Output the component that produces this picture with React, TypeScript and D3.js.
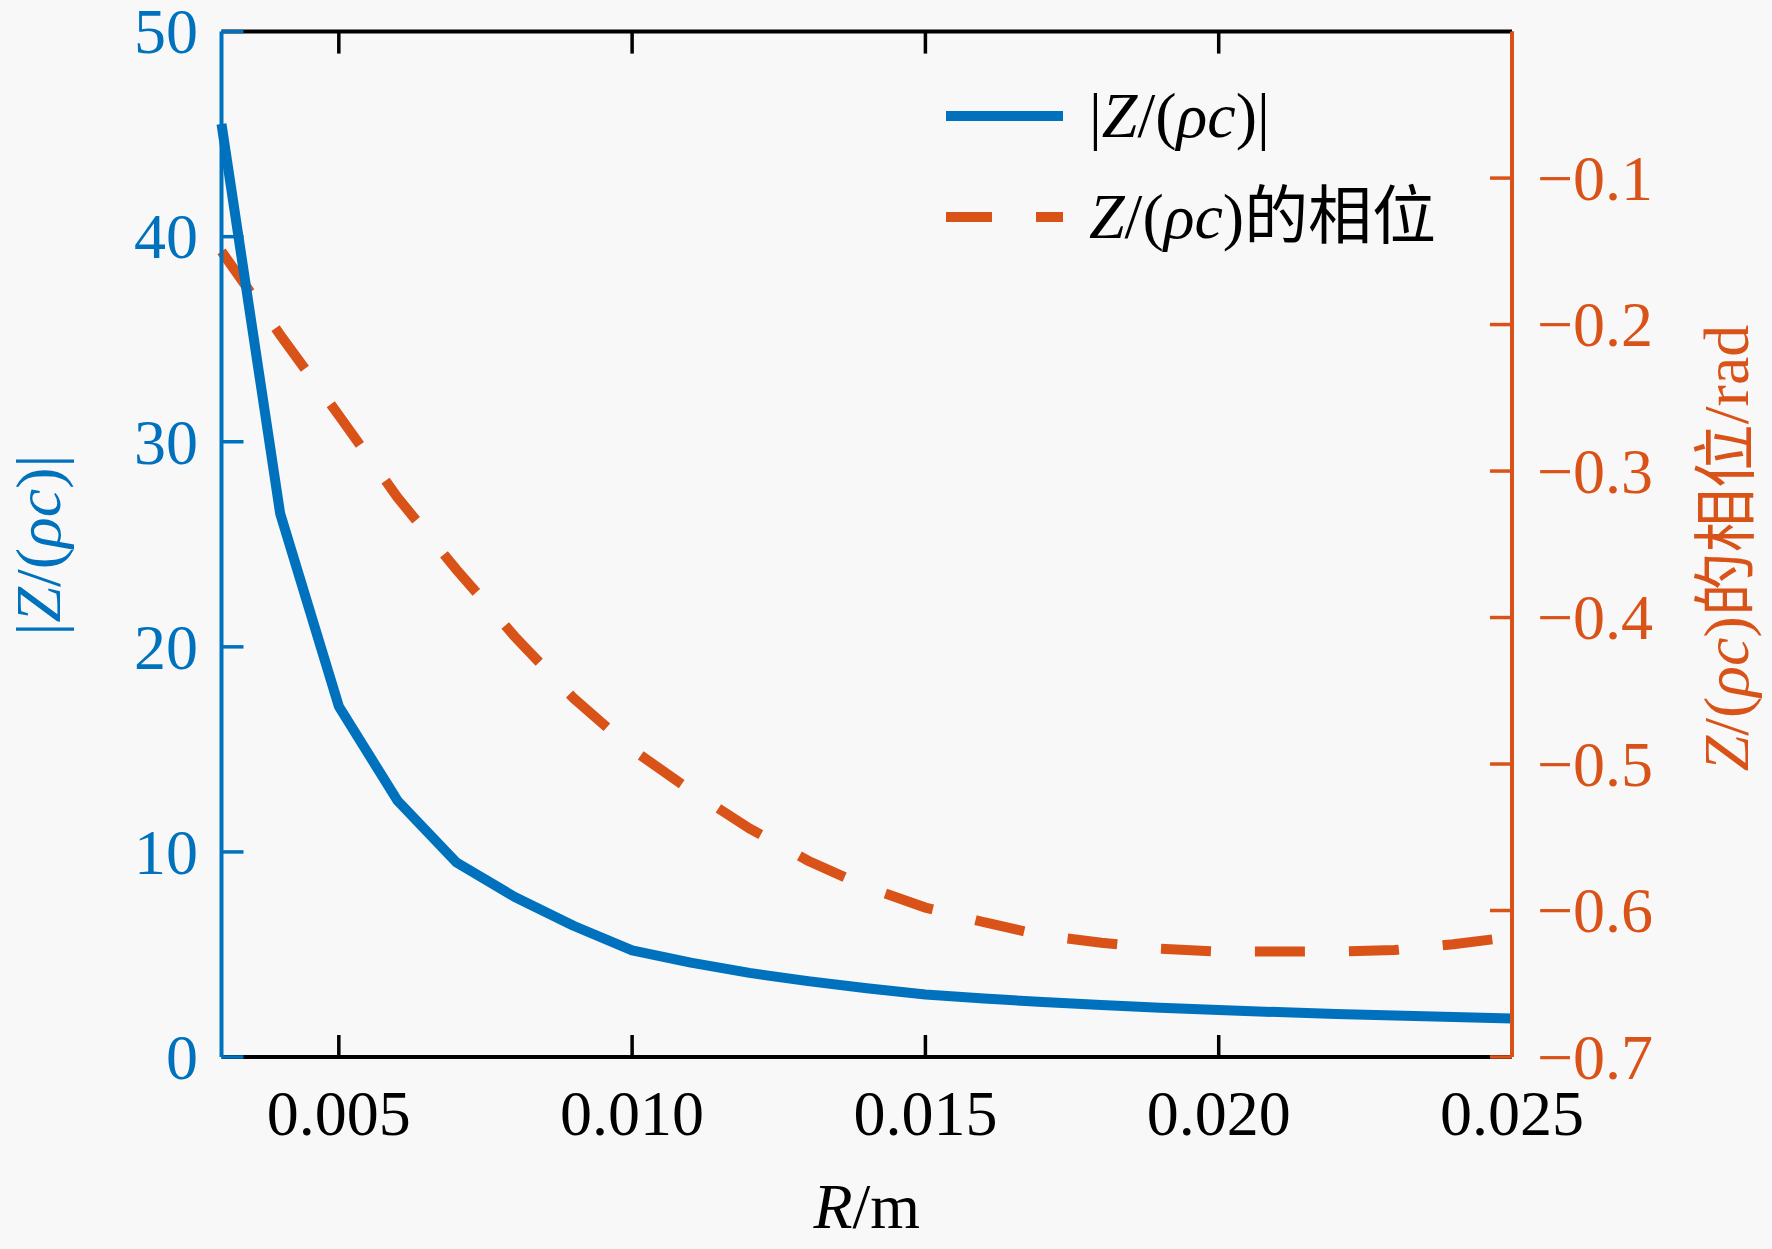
import { useEffect, useRef } from 'react';
import * as d3 from 'd3';

// R (m), sampled every 1 mm
const radii = [
  0.003, 0.004, 0.005, 0.006, 0.007, 0.008, 0.009, 0.010, 0.011, 0.012, 0.013, 0.014,
  0.015, 0.016, 0.017, 0.018, 0.019, 0.020, 0.021, 0.022, 0.023, 0.024, 0.025,
];
// |Z/(rho c)|
const magnitude = [
  45.5, 26.5, 17.1, 12.5, 9.5, 7.8, 6.4, 5.2, 4.6, 4.1, 3.7, 3.35,
  3.05, 2.85, 2.68, 2.53, 2.4, 2.29, 2.19, 2.1, 2.02, 1.95, 1.88,
];
// phase of Z/(rho c), rad
const phase = [
  -0.15, -0.207, -0.262, -0.318, -0.367, -0.413, -0.455, -0.49, -0.518, -0.544, -0.566, -0.584,
  -0.598, -0.608, -0.617, -0.622, -0.626, -0.628, -0.628, -0.628, -0.627, -0.623, -0.618,
];
const xTicks = [0.005, 0.01, 0.015, 0.02, 0.025];
const leftTicks = [0, 10, 20, 30, 40, 50];
const rightTicks = [-0.1, -0.2, -0.3, -0.4, -0.5, -0.6, -0.7];

const BLUE = '#0072BD';
const ORANGE = '#D95319';
const FONT = '"Liberation Serif", "Times New Roman", "Noto Sans CJK SC", serif';

export default function App() {
  const svgRef = useRef<SVGSVGElement>(null);
  const width = 1772;
  const height = 1249;

  useEffect(() => {
    if (!svgRef.current) return;
    const svg = d3.select(svgRef.current);
    svg.selectAll('*').remove();

    const left = 221.5;
    const right = 1512;
    const top = 31.6;
    const bottom = 1057;
    const tickLen = 22;

    const x = d3.scaleLinear().domain([0.003, 0.025]).range([left, right]);
    const yL = d3.scaleLinear().domain([0, 50]).range([bottom, top]);
    const yR = d3.scaleLinear().domain([-0.7, 0]).range([bottom, top]);

    svg.append('rect').attr('width', width).attr('height', height).attr('fill', '#f8f8f8');

    const g = svg.append('g');

    // --- curves ---
    const magLine = d3
      .line<number>()
      .x((_, i) => x(radii[i]))
      .y((d) => yL(d));
    const phaseLine = d3
      .line<number>()
      .x((_, i) => x(radii[i]))
      .y((d) => yR(d));

    g.append('path')
      .datum(phase)
      .attr('d', phaseLine)
      .attr('fill', 'none')
      .attr('stroke', ORANGE)
      .attr('stroke-width', 10)
      .attr('stroke-dasharray', '50,44');

    g.append('path')
      .datum(magnitude)
      .attr('d', magLine)
      .attr('fill', 'none')
      .attr('stroke', BLUE)
      .attr('stroke-width', 10)
      .attr('stroke-linejoin', 'round');

    // --- box: top and bottom (black) ---
    g.append('line')
      .attr('x1', left).attr('x2', right).attr('y1', bottom).attr('y2', bottom)
      .attr('stroke', '#000').attr('stroke-width', 4);
    g.append('line')
      .attr('x1', left).attr('x2', right).attr('y1', top).attr('y2', top)
      .attr('stroke', '#000').attr('stroke-width', 4);

    xTicks.forEach((t) => {
      g.append('line')
        .attr('x1', x(t)).attr('x2', x(t)).attr('y1', bottom).attr('y2', bottom - tickLen)
        .attr('stroke', '#000').attr('stroke-width', 3.5);
      g.append('line')
        .attr('x1', x(t)).attr('x2', x(t)).attr('y1', top).attr('y2', top + tickLen)
        .attr('stroke', '#000').attr('stroke-width', 3.5);
      g.append('text')
        .attr('x', x(t))
        .attr('y', 1135)
        .attr('text-anchor', 'middle')
        .attr('font-family', FONT)
        .attr('font-size', 64)
        .attr('fill', '#000')
        .text(t.toFixed(3));
    });

    // --- left axis (blue) ---
    g.append('line')
      .attr('x1', left).attr('x2', left).attr('y1', top).attr('y2', bottom)
      .attr('stroke', BLUE).attr('stroke-width', 4);
    leftTicks.forEach((t) => {
      g.append('line')
        .attr('x1', left).attr('x2', left + tickLen).attr('y1', yL(t)).attr('y2', yL(t))
        .attr('stroke', BLUE).attr('stroke-width', 3.5);
      g.append('text')
        .attr('x', 198)
        .attr('y', yL(t))
        .attr('dy', '0.34em')
        .attr('text-anchor', 'end')
        .attr('font-family', FONT)
        .attr('font-size', 64)
        .attr('fill', BLUE)
        .text(String(t));
    });

    // --- right axis (orange) ---
    g.append('line')
      .attr('x1', right).attr('x2', right).attr('y1', top).attr('y2', bottom)
      .attr('stroke', ORANGE).attr('stroke-width', 4);
    rightTicks.forEach((t) => {
      g.append('line')
        .attr('x1', right).attr('x2', right - tickLen).attr('y1', yR(t)).attr('y2', yR(t))
        .attr('stroke', ORANGE).attr('stroke-width', 3.5);
      g.append('text')
        .attr('x', 1537)
        .attr('y', yR(t))
        .attr('dy', '0.34em')
        .attr('font-family', FONT)
        .attr('font-size', 64)
        .attr('fill', ORANGE)
        .text(`\u2212${Math.abs(t).toFixed(1)}`);
    });

    // rich label helper: parts of [text, italic]
    const rich = (
      sel: d3.Selection<SVGTextElement, unknown, null, undefined>,
      parts: [string, boolean][],
    ) => {
      parts.forEach(([s, it]) => {
        sel.append('tspan').attr('font-style', it ? 'italic' : 'normal').text(s);
      });
      return sel;
    };

    // x label
    rich(
      g.append('text')
        .attr('x', (left + right) / 2)
        .attr('y', 1228)
        .attr('text-anchor', 'middle')
        .attr('font-family', FONT)
        .attr('font-size', 64)
        .attr('fill', '#000'),
      [['R', true], ['/m', false]],
    );

    // left y label
    rich(
      g.append('text')
        .attr('transform', 'translate(60,545) rotate(-90)')
        .attr('text-anchor', 'middle')
        .attr('font-family', FONT)
        .attr('font-size', 64)
        .attr('fill', BLUE),
      [['|', false], ['Z', true], ['/(', false], ['ρc', true], [')|', false]],
    );

    // right y label
    rich(
      g.append('text')
        .attr('transform', 'translate(1748,548) rotate(-90)')
        .attr('text-anchor', 'middle')
        .attr('font-family', FONT)
        .attr('font-size', 64)
        .attr('fill', ORANGE),
      [['Z', true], ['/(', false], ['ρc', true], [')的相位/rad', false]],
    );

    // --- legend ---
    const legendItems: { y: number; color: string; dash: string | null; parts: [string, boolean][] }[] = [
      { y: 116, color: BLUE, dash: null, parts: [['|', false], ['Z', true], ['/(', false], ['ρc', true], [')|', false]] },
      { y: 217, color: ORANGE, dash: '46,44', parts: [['Z', true], ['/(', false], ['ρc', true], [')的相位', false]] },
    ];
    legendItems.forEach((item) => {
      const ln = g.append('line')
        .attr('x1', 946).attr('x2', 1063).attr('y1', item.y).attr('y2', item.y)
        .attr('stroke', item.color).attr('stroke-width', 10);
      if (item.dash) ln.attr('stroke-dasharray', item.dash);
      rich(
        g.append('text')
          .attr('x', 1089)
          .attr('y', item.y)
          .attr('dy', '0.33em')
          .attr('font-family', FONT)
          .attr('font-size', 64)
          .attr('fill', '#000'),
        item.parts,
      );
    });
  }, []);

  return (
    <svg
      ref={svgRef}
      width={width}
      height={height}
      style={{ position: 'absolute', left: 0, top: 0, display: 'block' }}
    />
  );
}
